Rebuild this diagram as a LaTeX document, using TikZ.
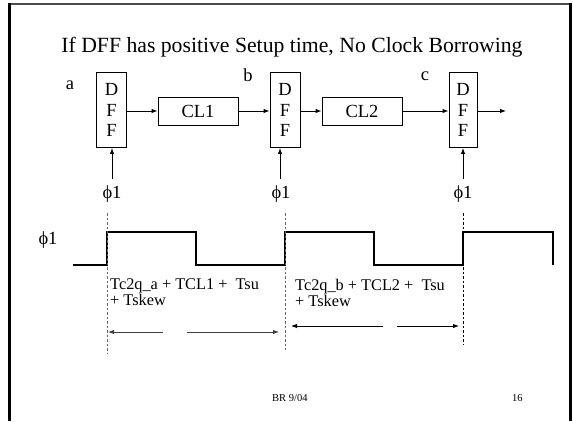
\documentclass[tikz,border=0pt]{standalone}
\usepackage{fontspec}
\setmainfont{Liberation Serif}
\usetikzlibrary{arrows.meta}
\newcommand{\phisym}{\symbol{"03D5}}
\begin{document}
\begin{tikzpicture}[x=1pt,y=-1pt,
  dffbox/.style={draw, line width=0.9pt, inner sep=0pt, minimum width=30pt, minimum height=75pt, align=center, font=\fontsize{18.5}{20.5}\selectfont},
  clbox/.style={draw, line width=0.9pt, inner sep=0pt, minimum width=80pt, minimum height=28pt, font=\fontsize{18.5}{20}\selectfont},
  arr/.style={-{Latex[length=6pt,width=4.5pt]}, line width=0.9pt},
  big/.style={font=\fontsize{18.5}{20}\selectfont, inner sep=0pt},
  small/.style={font=\fontsize{16.3}{13.2}\selectfont, inner sep=0pt, align=left},
  tiny/.style={font=\fontsize{10.5}{12}\selectfont, inner sep=0pt},
  guide/.style={dashed, line width=0.7pt, dash pattern=on 2.5pt off 2pt},
  wave/.style={line width=2pt, line join=miter}
]
\useasboundingbox (0,0) rectangle (573,421);
% frame
\draw[line width=2pt, black!70] (8,4) -- (571,4);
\draw[line width=3pt] (9.5,3) -- (9.5,421);
\draw[line width=3pt] (570.5,3) -- (570.5,421);
% title
\node[font=\fontsize{21.7}{24}\selectfont, inner sep=0pt, anchor=base] (title) at (292,52) {If DFF has positive Setup time, No Clock Borrowing};
% registers and logic
\node[dffbox] (dff1) at (111.5,110) {D\\F\\F};
\node[dffbox] (dff2) at (285,110) {D\\F\\F};
\node[dffbox, minimum width=28pt] (dff3) at (463,110) {D\\F\\F};
\node[clbox] (cl1) at (198,111) {CL1};
\node[clbox] (cl2) at (362,111) {CL2};
\node[big] (la) at (70,85) {a};
\node[big] (lb) at (248,75) {b};
\node[big] (lc) at (425,76) {c};
\coordinate (out) at (506,111);
\draw[arr] (dff1.east |- cl1.west) -- (cl1.west);
\draw[arr] (cl1.east) -- (cl1.east -| dff2.west);
\draw[arr] (dff2.east |- cl2.west) -- (cl2.west);
\draw[arr] (cl2.east) -- (cl2.east -| dff3.west);
\draw[arr] (dff3.east |- out) -- (out);
% clocks
\node[big] (p1) at (112,194) {\phisym1};
\node[big] (p2) at (281,194) {\phisym1};
\node[big] (p3) at (463,194) {\phisym1};
\coordinate (ck1) at (112,179);
\coordinate (ck2) at (280,179);
\coordinate (ck3) at (463,179);
\draw[arr] (ck1) -- (ck1 |- dff1.south);
\draw[arr] (ck2) -- (ck2 |- dff2.south);
\draw[arr] (ck3) -- (ck3 |- dff3.south);
% waveform
\node[big] (pw) at (48,240) {\phisym1};
\draw[wave] (73,265) -- (107,265) -- (107,232) -- (196,232) -- (196,265) -- (285,265) -- (285,232) -- (374,232) -- (374,265) -- (463,265) -- (463,232) -- (553,232) -- (553,265);
% guides
\draw[guide, black!60] (107,213) -- (107,353);
\draw[guide, black!60] (285,213) -- (285,350);
\draw[guide] (463,213) -- (463,344);
% annotations
\node[small, anchor=north west] (t1) at (110,279) {Tc2q\_a + TCL1 +\ \ Tsu\\+ Tskew};
\node[small, anchor=north west] (t2) at (295,279) {Tc2q\_b + TCL2 +\ \ Tsu\\+ Tskew};
\coordinate (a1s) at (163,332); \coordinate (a1e) at (108,332);
\coordinate (a2s) at (187,332); \coordinate (a2e) at (279,332);
\coordinate (a3s) at (383,326); \coordinate (a3e) at (291,326);
\coordinate (a4s) at (397,326); \coordinate (a4e) at (459,326);
\draw[arr, black!75] (a1s) -- (a1e);
\draw[arr, black!75] (a2s) -- (a2e);
\draw[arr] (a3s) -- (a3e);
\draw[arr] (a4s) -- (a4e);
% footer
\node[tiny, anchor=base west] (foot) at (272,401) {BR 9/04};
\node[tiny, anchor=base west] (page) at (512,401) {16};
\end{tikzpicture}
\end{document}
